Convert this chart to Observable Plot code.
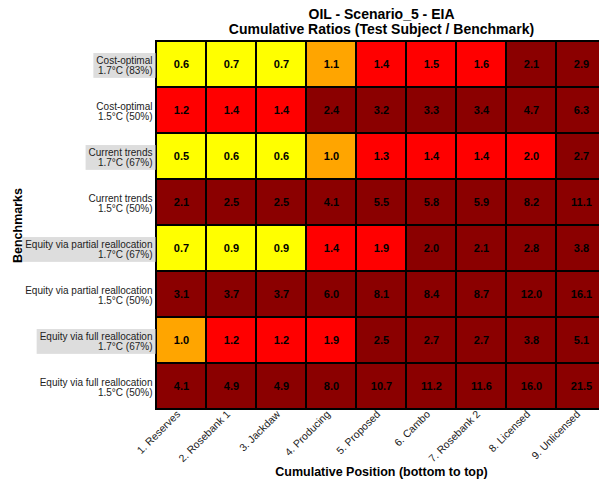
<!DOCTYPE html>
<html>
<head>
<meta charset="utf-8">
<script src="https://cdn.jsdelivr.net/npm/d3@7"></script>
<script src="https://cdn.jsdelivr.net/npm/@observablehq/plot@0.6"></script>
<style>
  html, body { margin: 0; padding: 0; background: white; overflow: hidden; }
</style>
</head>
<body>
<div id="chart"></div>
<script>
const titleLines = ["OIL - Scenario_5 - EIA", "Cumulative Ratios (Test Subject / Benchmark)"];
const xTitle = "Cumulative Position (bottom to top)";
const yTitle = "Benchmarks";

const positions = ["1. Reserves", "2. Rosebank 1", "3. Jackdaw", "4. Producing", "5. Proposed", "6. Cambo", "7. Rosebank 2", "8. Licensed", "9. Unlicensed"];

const benchmarks = [
  "Cost-optimal\n1.7°C (83%)",
  "Cost-optimal\n1.5°C (50%)",
  "Current trends\n1.7°C (67%)",
  "Current trends\n1.5°C (50%)",
  "Equity via partial reallocation\n1.7°C (67%)",
  "Equity via partial reallocation\n1.5°C (50%)",
  "Equity via full reallocation\n1.7°C (67%)",
  "Equity via full reallocation\n1.5°C (50%)"
];

const highlighted = [true, false, true, false, true, false, true, false];

const ratios = [
  [0.6, 0.7, 0.7, 1.1, 1.4, 1.5, 1.6, 2.1, 2.9],
  [1.2, 1.4, 1.4, 2.4, 3.2, 3.3, 3.4, 4.7, 6.3],
  [0.5, 0.6, 0.6, 1.0, 1.3, 1.4, 1.4, 1.98, 2.7],
  [2.1, 2.5, 2.5, 4.1, 5.5, 5.8, 5.9, 8.2, 11.1],
  [0.7, 0.9, 0.9, 1.4, 1.9, 2.02, 2.1, 2.8, 3.8],
  [3.1, 3.7, 3.7, 6.0, 8.1, 8.4, 8.7, 12.0, 16.1],
  [1.0, 1.2, 1.2, 1.9, 2.5, 2.7, 2.7, 3.8, 5.1],
  [4.1, 4.9, 4.9, 8.0, 10.7, 11.2, 11.6, 16.0, 21.5]
];

const colorBreaks = [0.95, 1.15, 2.0];
const colorRange = ["#ffff00", "#ffa500", "#ff0000", "#8b0000"];

const cells = [];
benchmarks.forEach((b, i) => positions.forEach((p, j) => cells.push({bench: b, pos: p, v: ratios[i][j]})));

const plot = Plot.plot({
  width: 599,
  height: 485,
  marginLeft: 156,
  marginRight: -7,
  marginTop: 41,
  marginBottom: 76,
  style: {fontFamily: "'Liberation Sans', Arial, sans-serif", fontSize: "10px", background: "white", color: "#222"},
  x: {domain: positions, padding: 0, label: null},
  y: {domain: benchmarks, padding: 0, label: null},
  color: {type: "threshold", domain: colorBreaks, range: colorRange},
  marks: [
    Plot.cell(cells, {x: "pos", y: "bench", fill: "v", stroke: "black", strokeWidth: 2, inset: 0}),
    Plot.text(cells, {x: "pos", y: "bench", text: d => d.v.toFixed(1), fill: "black", fontWeight: "bold", fontSize: 11}),
    Plot.axisY({tickSize: 0, tickPadding: 4, fontSize: 10, lineHeight: 1.08, dy: 1, label: null}),
    Plot.axisX({tickSize: 0, tickPadding: 3, tickRotate: -45, fontSize: 10.5, dx: -3, label: null}),
    Plot.text([titleLines[0]], {frameAnchor: "top", dy: -27, text: d => d, fontWeight: "bold", fontSize: 14, fill: "black", lineAnchor: "middle"}),
    Plot.text([titleLines[1]], {frameAnchor: "top", dy: -12, text: d => d, fontWeight: "bold", fontSize: 14, fill: "black", lineAnchor: "middle"}),
    Plot.text([xTitle], {frameAnchor: "bottom", dy: 62, text: d => d, fontWeight: "bold", fontSize: 12.5, fill: "black", lineAnchor: "middle"}),
    Plot.text([yTitle], {frameAnchor: "left", dx: -139, rotate: -90, text: d => d, textAnchor: "middle", fontWeight: "bold", fontSize: 12.5, fill: "black", lineAnchor: "middle"})
  ]
});

document.getElementById("chart").appendChild(plot);

// grey boxes behind highlighted benchmark labels
const yLabelGroup = plot.querySelector('g[aria-label="y-axis tick label"]');
if (yLabelGroup) {
  yLabelGroup.querySelectorAll("text").forEach(t => {
    const txt = t.textContent;
    const idx = benchmarks.findIndex(b => b.replace("\n", "") === txt);
    if (idx >= 0 && highlighted[idx]) {
      const bb = t.getBBox();
      const r = document.createElementNS("http://www.w3.org/2000/svg", "rect");
      r.setAttribute("x", bb.x - 3);
      r.setAttribute("y", bb.y - 1.5);
      r.setAttribute("width", bb.width + 6);
      r.setAttribute("height", bb.height + 3);
      r.setAttribute("fill", "#dddddd");
      r.setAttribute("stroke", "none");
      if (t.getAttribute("transform")) r.setAttribute("transform", t.getAttribute("transform"));
      yLabelGroup.insertBefore(r, t);
    }
  });
}
</script>
</body>
</html>
